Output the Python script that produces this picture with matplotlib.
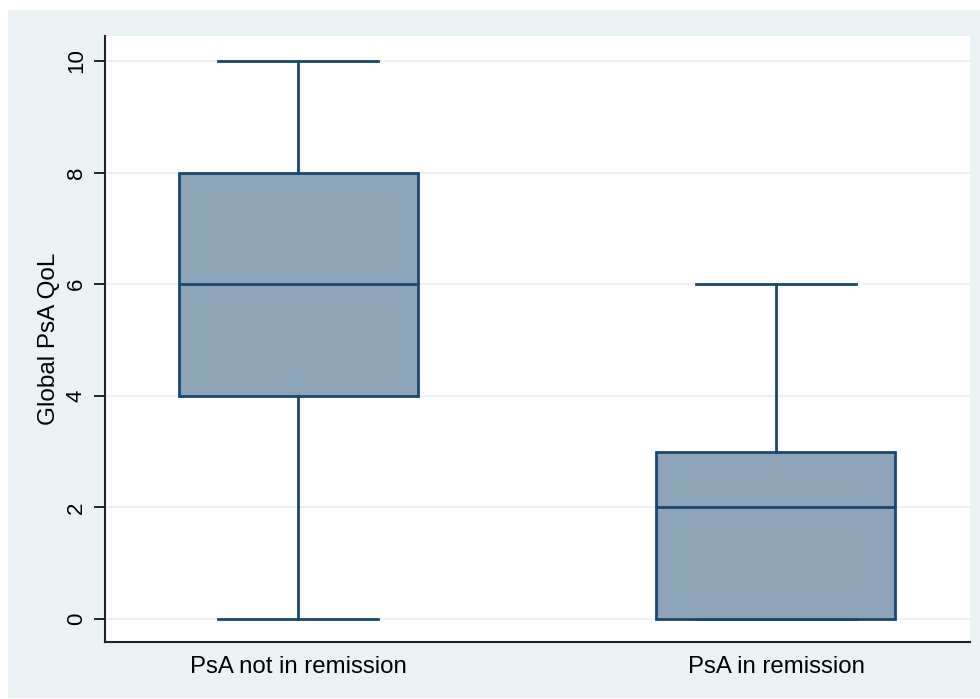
import matplotlib.pyplot as plt
from matplotlib.patches import Rectangle

groups = ["PsA not in remission", "PsA in remission"]
whisker_low = [0, 0]
q1 = [4, 0]
median = [6, 2]
q3 = [8, 3]
whisker_high = [10, 6]
yticks = [0, 2, 4, 6, 8, 10]

navy = "#1a476f"
fill = "#8ca3b8"
bg = "#eaf2f3"

plt.rcParams["font.family"] = ["Liberation Sans", "DejaVu Sans"]

fig = plt.figure(figsize=(9.8, 6.99), dpi=100)
fig.patch.set_facecolor("white")
# light outer graph region, like Stata's s2color scheme
fig.add_artist(Rectangle((8 / 980, 1 - 698 / 699), 972 / 980, 688 / 699,
                         transform=fig.transFigure, facecolor=bg,
                         edgecolor="none", zorder=-10))

ax = fig.add_axes([105 / 980, 1 - 642 / 699, 865 / 980, 606 / 699])
ax.set_facecolor("white")

stats = []
for i, g in enumerate(groups):
    stats.append({"label": g, "whislo": whisker_low[i], "q1": q1[i],
                  "med": median[i], "q3": q3[i], "whishi": whisker_high[i],
                  "fliers": []})

ax.bxp(stats, positions=[1, 2], widths=0.5, patch_artist=True,
       showfliers=False, capwidths=0.335,
       boxprops=dict(facecolor=fill, edgecolor=navy, linewidth=2),
       medianprops=dict(color=navy, linewidth=2),
       whiskerprops=dict(color=navy, linewidth=2),
       capprops=dict(color=navy, linewidth=2), zorder=3)

ax.set_xlim(0.596, 2.406)
ax.set_ylim(-0.412, 10.448)
ax.set_yticks(yticks)
ax.set_yticklabels([str(v) for v in yticks], rotation=90, va="center",
                   fontsize=16)
ax.grid(axis="y", color=bg, linewidth=1.5, zorder=0)
ax.set_axisbelow(True)
ax.tick_params(axis="y", length=8, width=1.2, pad=5)
ax.tick_params(axis="x", length=0, labelsize=17.3, pad=10)
ax.set_ylabel("Global PsA QoL", fontsize=17.5, labelpad=4)

for s in ["top", "right"]:
    ax.spines[s].set_visible(False)
for s in ["left", "bottom"]:
    ax.spines[s].set_linewidth(1.5)
    ax.spines[s].set_color("#222222")

fig.savefig("out.png", dpi=100)
